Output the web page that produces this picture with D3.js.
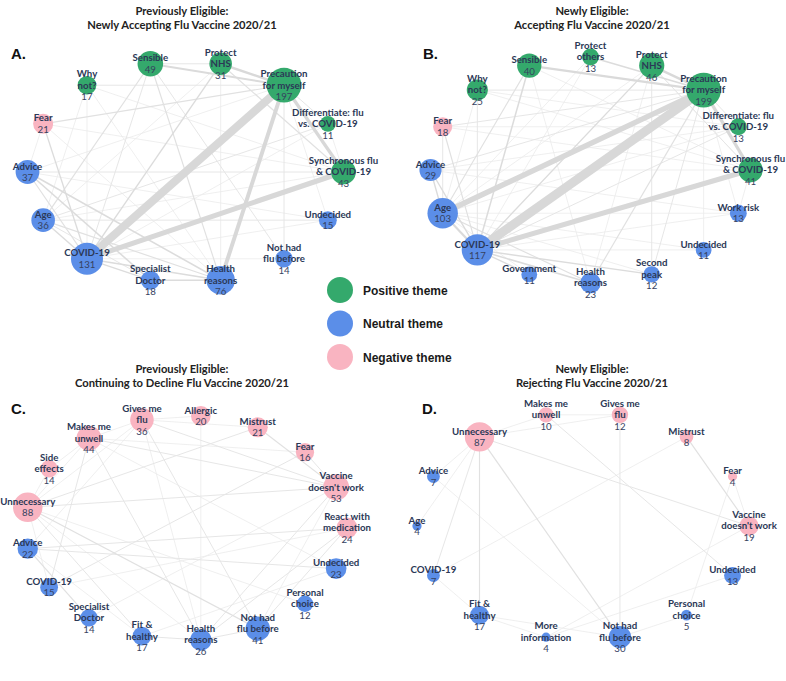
<!DOCTYPE html>
<html>
<head>
<meta charset="utf-8">
<script src="https://cdn.jsdelivr.net/npm/d3@7"></script>
<style>
  html, body { margin: 0; padding: 0; background: #fff; }
  svg { display: block; }
</style>
</head>
<body>
<svg id="chart" width="786" height="681"></svg>
<script>
// ---------------- DATA ----------------
const panelLetters = ["A.", "B.", "C.", "D."];
const panelTitles = [
  ["Previously Eligible:", "Newly Accepting Flu Vaccine 2020/21"],
  ["Newly Eligible:", "Accepting Flu Vaccine 2020/21"],
  ["Previously Eligible:", "Continuing to Decline Flu Vaccine 2020/21"],
  ["Newly Eligible:", "Rejecting Flu Vaccine 2020/21"]
];
const legendLabels = ["Positive theme", "Neutral theme", "Negative theme"];
const themeKeys = ["pos", "neu", "neg"];

// Panel A
const nodesA = ["Synchronous flu\n& COVID-19", "Undecided", "Not had\nflu before", "Health\nreasons",
  "Specialist\nDoctor", "COVID-19", "Age", "Advice", "Fear", "Why\nnot?", "Sensible", "Protect\nNHS",
  "Precaution\nfor myself", "Differentiate: flu\nvs. COVID-19"];
const countsA = [43, 15, 14, 76, 18, 131, 36, 37, 21, 17, 49, 31, 197, 11];
const themesA = ["pos", "neu", "neu", "neu", "neu", "neu", "neu", "neu", "neg", "pos", "pos", "pos", "pos", "pos"];
const edgesA = [
  [12, 5, 40], [5, 0, 24], [12, 3, 18], [12, 0, 14], [11, 12, 10], [10, 12, 7], [11, 0, 3],
  [8, 12, 3], [8, 5, 4], [8, 0, 1], [7, 4, 5], [7, 3, 5], [7, 5, 3], [6, 5, 4], [6, 3, 3],
  [6, 4, 2], [6, 1, 2], [10, 6, 3], [10, 3, 3], [10, 2, 2], [10, 5, 2], [11, 5, 4], [9, 12, 2],
  [9, 5, 1], [13, 6, 2], [5, 4, 4], [5, 3, 5], [4, 3, 4], [1, 12, 1], [7, 1, 1], [7, 0, 2],
  [2, 12, 2], [13, 0, 1], [11, 3, 1], [6, 0, 1], [9, 3, 1], [9, 6, 1], [8, 7, 1], [13, 5, 1],
  [1, 5, 1], [2, 5, 1], [10, 11, 2], [12, 13, 2], [8, 3, 1], [7, 12, 1], [9, 0, 1], [11, 6, 1]
];

// Panel B
const nodesB = ["Synchronous flu\n& COVID-19", "Work risk", "Undecided", "Second\npeak", "Health\nreasons",
  "Government", "COVID-19", "Age", "Advice", "Fear", "Why\nnot?", "Sensible", "Protect\nothers",
  "Protect\nNHS", "Precaution\nfor myself", "Differentiate: flu\nvs. COVID-19"];
const countsB = [41, 13, 11, 12, 23, 11, 117, 103, 29, 18, 25, 40, 13, 46, 199, 13];
const themesB = ["pos", "neu", "neu", "neu", "neu", "neu", "neu", "neu", "neu", "neg", "pos", "pos", "pos", "pos", "pos", "pos"];
const edgesB = [
  [14, 6, 45], [14, 7, 26], [6, 0, 24], [14, 0, 14], [11, 14, 8], [13, 14, 10], [12, 14, 5],
  [13, 6, 4], [13, 3, 2], [14, 3, 2], [14, 4, 3], [11, 6, 5], [11, 7, 3], [10, 6, 2], [10, 14, 2],
  [9, 14, 2], [9, 6, 3], [9, 7, 2], [8, 6, 4], [8, 7, 4], [8, 14, 2], [7, 6, 8], [6, 4, 5],
  [6, 3, 4], [6, 5, 4], [6, 15, 2], [7, 1, 1], [0, 1, 1], [6, 2, 1], [12, 6, 1], [0, 13, 2],
  [7, 4, 3], [15, 14, 2], [10, 0, 1], [8, 0, 1], [11, 4, 1], [7, 15, 1], [9, 0, 1],
  [10, 7, 1], [12, 7, 1], [13, 7, 1], [5, 7, 1], [3, 7, 1], [2, 7, 1], [1, 6, 1], [8, 15, 1],
  [9, 15, 1], [10, 15, 1], [11, 0, 1], [13, 0, 1], [2, 14, 1], [1, 14, 1], [4, 13, 1], [8, 1, 1]
];

// Panel C
const nodesC = ["React with\nmedication", "Undecided", "Personal\nchoice", "Not had\nflu before", "Health\nreasons",
  "Fit &\nhealthy", "Specialist\nDoctor", "COVID-19", "Advice", "Unnecessary", "Side\neffects",
  "Makes me\nunwell", "Gives me\nflu", "Allergic", "Mistrust", "Fear", "Vaccine\ndoesn't work"];
const countsC = [24, 23, 12, 41, 26, 17, 14, 15, 22, 88, 14, 44, 36, 20, 21, 16, 53];
const themesC = ["neg", "neu", "neu", "neu", "neu", "neu", "neu", "neu", "neu", "neg", "neg", "neg", "neg", "neg", "neg", "neg", "neg"];
const edgesC = [
  [9, 16, 2], [9, 14, 2], [9, 3, 3], [9, 5, 2], [9, 4, 1], [9, 11, 1], [9, 12, 1], [8, 0, 2],
  [8, 1, 2], [8, 6, 3], [8, 5, 1], [8, 12, 1], [7, 15, 2], [7, 11, 2], [7, 0, 1], [11, 4, 2],
  [11, 16, 2], [11, 15, 1], [11, 1, 1], [12, 16, 2], [12, 3, 2], [12, 4, 1], [12, 14, 1], [13, 4, 1],
  [14, 16, 3], [15, 16, 2], [16, 4, 2], [16, 3, 1], [0, 4, 2], [0, 3, 2], [6, 16, 1], [10, 11, 1],
  [10, 9, 1], [5, 4, 2], [4, 3, 2], [9, 2, 1], [1, 5, 1], [11, 12, 1], [12, 13, 1], [7, 9, 1]
];

// Panel D
const nodesD = ["Vaccine\ndoesn't work", "Undecided", "Personal\nchoice", "Not had\nflu before", "More\ninformation",
  "Fit &\nhealthy", "COVID-19", "Age", "Advice", "Unnecessary", "Makes me\nunwell", "Gives me\nflu",
  "Mistrust", "Fear"];
const countsD = [19, 13, 5, 30, 4, 17, 7, 4, 7, 87, 10, 12, 8, 4];
const themesD = ["neg", "neu", "neu", "neu", "neu", "neu", "neu", "neu", "neu", "neg", "neg", "neg", "neg", "neg"];
const edgesD = [
  [9, 5, 3], [9, 3, 3], [9, 6, 2], [9, 7, 1], [9, 8, 1], [9, 10, 1], [9, 11, 1], [9, 0, 2],
  [10, 11, 1], [10, 1, 2], [11, 3, 2], [12, 0, 3], [12, 6, 1], [13, 2, 1], [13, 0, 1], [1, 4, 1],
  [8, 3, 1], [6, 5, 1], [5, 3, 1], [5, 4, 1], [2, 3, 1], [0, 4, 1]
];

// ---------------- LAYOUT / STYLE ----------------
const colors = d3.scaleOrdinal().domain(themeKeys).range(["#34a96c", "#5b8ee8", "#f9b4c1"]);
const rScale = d3.scaleLog().domain([4, 200]).range([4.6, 17.4]);
const wScale = d3.scaleLinear().domain([1, 45]).range([0.8, 9]);
const eColor = d3.scaleLinear().domain([1, 4, 12]).range(["#ebebeb", "#dcdcdc", "#d8d8d8"]).clamp(true);

const panels = [
  { nodes: nodesA, counts: countsA, themes: themesA, edges: edgesA, cx: 185.5, cy: 172, rx: 158, ry: 111,
    title: [182, 15], letter: [11, 59] },
  { nodes: nodesB, counts: countsB, themes: themesB, edges: edgesB, cx: 590.5, cy: 170, rx: 160, ry: 113,
    title: [592, 15], letter: [423, 59] },
  { nodes: nodesC, counts: countsC, themes: themesC, edges: edgesC, cx: 186, cy: 528, rx: 161, ry: 112.5,
    title: [182, 373], letter: [11, 414] },
  { nodes: nodesD, counts: countsD, themes: themesD, edges: edgesD, cx: 583, cy: 526, rx: 166, ry: 114,
    title: [592, 373], letter: [422, 414] }
];

const svg = d3.select("#chart");
const labelFont = "Lato, 'DejaVu Sans', sans-serif";

panels.forEach((p, pi) => {
  const n = p.nodes.length;
  const angle = d3.scaleLinear().domain([0, n]).range([0, 2 * Math.PI]);
  const xs = d3.range(n).map(i => p.cx + p.rx * Math.cos(angle(i)));
  const ys = d3.range(n).map(i => p.cy + p.ry * Math.sin(angle(i)));
  const g = svg.append("g");

  // title
  const t = g.append("text")
    .attr("x", p.title[0]).attr("y", p.title[1])
    .attr("text-anchor", "middle")
    .style("font-family", "Lato, 'Open Sans', sans-serif")
    .style("font-weight", "700")
    .style("font-size", "11.2px")
    .style("fill", "#222");
  panelTitles[pi].forEach((line, li) => {
    t.append("tspan").attr("x", p.title[0]).attr("dy", li === 0 ? 0 : 14).text(line);
  });

  // letter
  g.append("text")
    .attr("x", p.letter[0]).attr("y", p.letter[1])
    .style("font-family", "'Liberation Sans', Arial, sans-serif")
    .style("font-weight", "700")
    .style("font-size", "15px")
    .style("fill", "#111")
    .text(panelLetters[pi]);

  // edges
  const sorted = p.edges.slice().sort((a, b) => a[2] - b[2]);
  g.append("g").selectAll("line").data(sorted).join("line")
    .attr("x1", d => xs[d[0]]).attr("y1", d => ys[d[0]])
    .attr("x2", d => xs[d[1]]).attr("y2", d => ys[d[1]])
    .attr("stroke", d => eColor(d[2]))
    .attr("stroke-width", d => wScale(d[2]))
    .attr("stroke-linecap", "butt");

  // nodes
  g.append("g").selectAll("circle").data(d3.range(n)).join("circle")
    .attr("cx", i => xs[i]).attr("cy", i => ys[i])
    .attr("r", i => rScale(p.counts[i]))
    .attr("fill", i => colors(p.themes[i]));

  // labels
  const lg = g.append("g");
  d3.range(n).forEach(i => {
    const lines = p.nodes[i].split("\n");
    const total = lines.length + 1;
    const lh = 11.5;
    const txt = lg.append("text")
      .attr("text-anchor", "middle")
      .style("font-family", labelFont)
      .style("font-size", "9.7px");
    lines.forEach((ln, li) => {
      txt.append("tspan")
        .attr("x", xs[i])
        .attr("y", ys[i] + (li - (total - 1) / 2) * lh + 3.4)
        .style("font-weight", "700")
        .style("fill", "#2b3856")
        .text(ln);
    });
    txt.append("tspan")
      .attr("x", xs[i])
      .attr("y", ys[i] + (lines.length - (total - 1) / 2) * lh + 3.4)
      .style("font-weight", "400")
      .style("fill", "#36425f")
      .text(p.counts[i]);
  });
});

// legend
const leg = svg.append("g");
leg.selectAll("circle").data(themeKeys).join("circle")
  .attr("cx", 340).attr("cy", (d, i) => 290 + i * 33.5)
  .attr("r", 13)
  .attr("fill", d => colors(d));
leg.selectAll("text").data(legendLabels).join("text")
  .attr("x", 363).attr("y", (d, i) => 294.5 + i * 33.5)
  .style("font-family", "'Liberation Sans', Arial, sans-serif")
  .style("font-weight", "700")
  .style("font-size", "12px")
  .style("fill", "#1a1a1a")
  .text(d => d);
</script>
</body>
</html>
